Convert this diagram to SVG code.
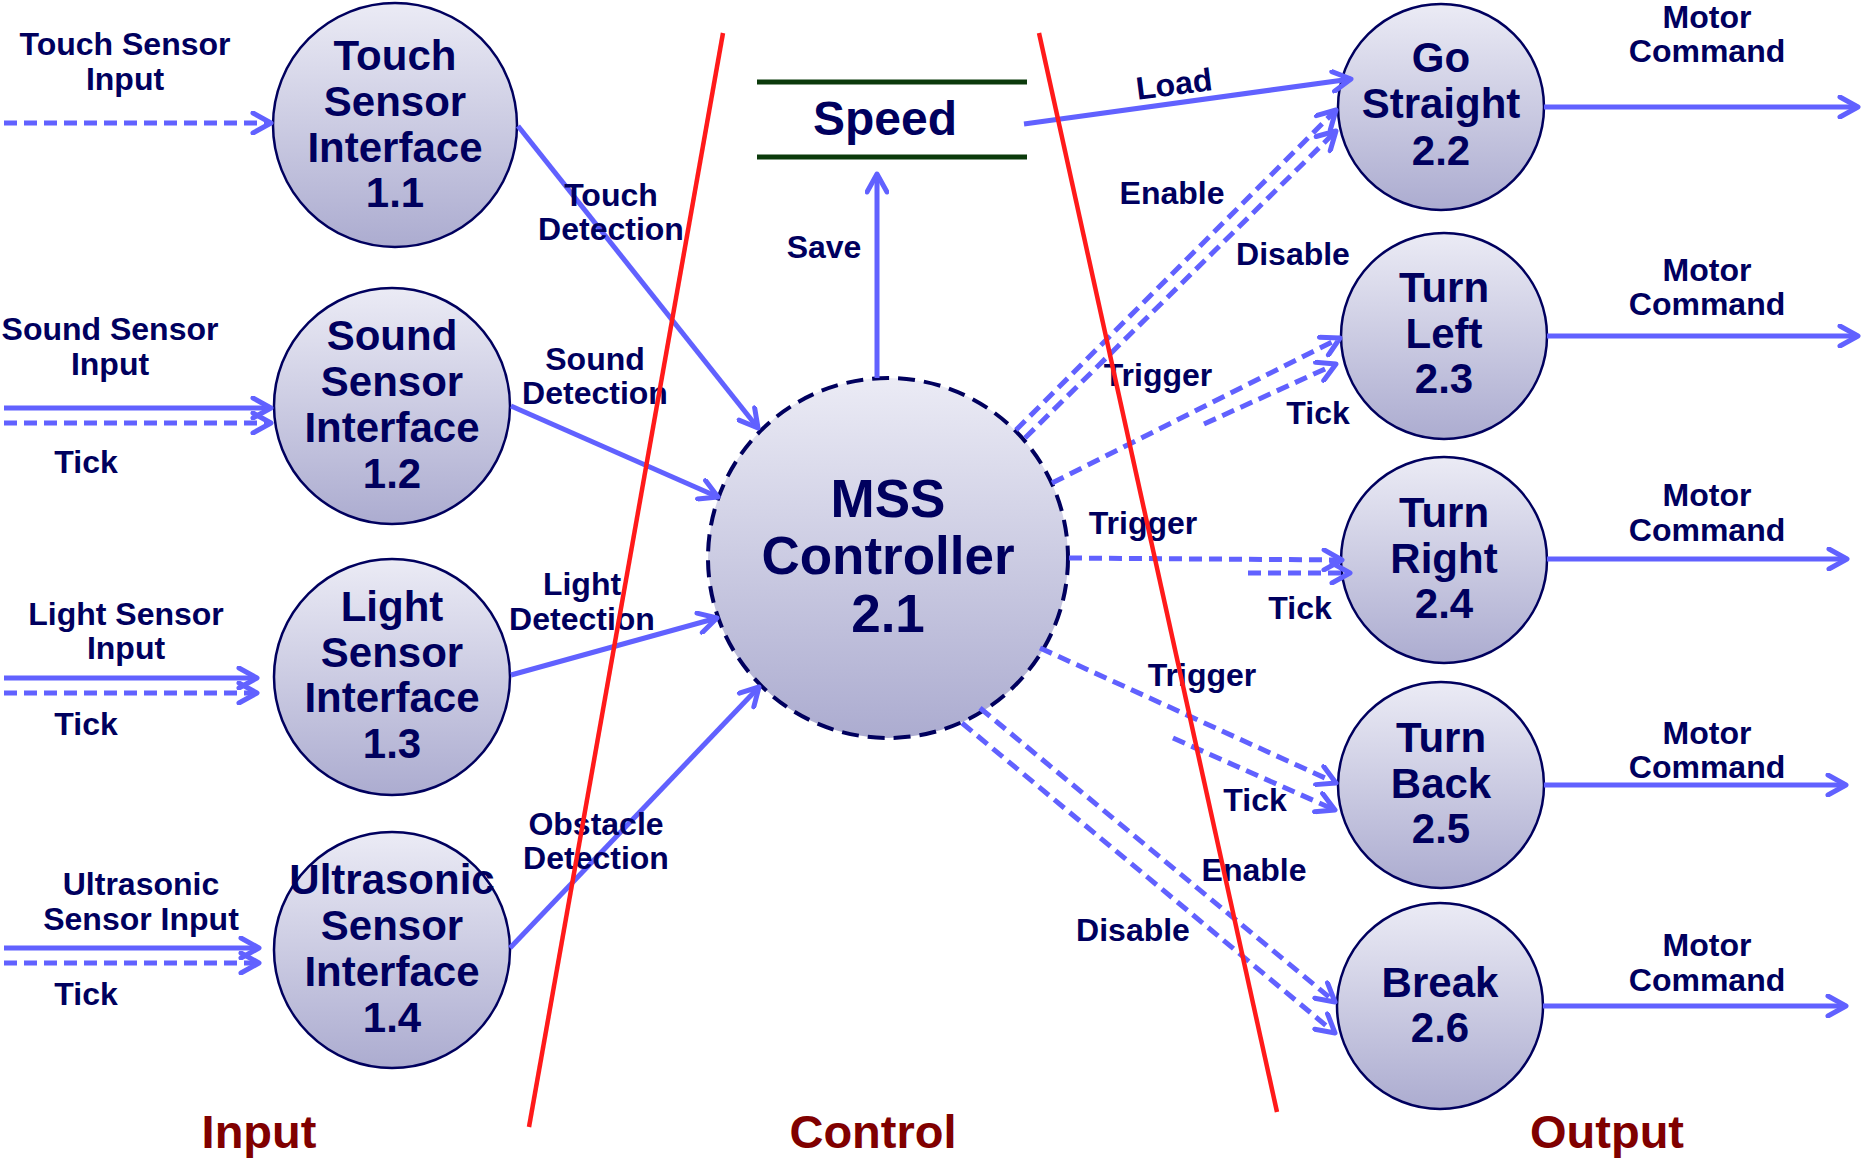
<svg xmlns="http://www.w3.org/2000/svg" width="1862" height="1160" viewBox="0 0 1862 1160">
  <defs>
    <linearGradient id="bubble" x1="0" y1="0" x2="0" y2="1">
      <stop offset="0" stop-color="#ebebf5"/>
      <stop offset="1" stop-color="#acacd0"/>
    </linearGradient>
    <marker id="arr" viewBox="0 0 24 24" refX="21" refY="12" markerWidth="24" markerHeight="24" orient="auto" markerUnits="userSpaceOnUse">
      <path d="M3,2 L21,12 L3,22" fill="none" stroke="#6161ff" stroke-width="5" stroke-linecap="round" stroke-linejoin="round" stroke-dasharray="none"/>
    </marker>
    <style>
      .node circle { fill: url(#bubble); stroke: #00005e; stroke-width: 2.5; }
      .node .ctl { stroke-width: 4; stroke-dasharray: 17 9; }
      .nt { font-family: "Liberation Sans", Arial, sans-serif; font-weight: bold; font-size: 42px; fill: #00005e; text-anchor: middle; }
      .big { font-size: 53px; }
      .lbl { font-family: "Liberation Sans", Arial, sans-serif; font-weight: bold; font-size: 32px; fill: #00005e; text-anchor: middle; }
      .zone { font-family: "Liberation Sans", Arial, sans-serif; font-weight: bold; font-size: 47px; fill: #800000; text-anchor: middle; }
      .flow { fill: none; stroke: #6161ff; stroke-width: 5; marker-end: url(#arr); }
      .dash { stroke-dasharray: 13 7; }
      .store { stroke: #0b3a0b; stroke-width: 5; }
      .bound { stroke: #ff1a1a; stroke-width: 4.5; fill: none; }
    </style>
  </defs>

  <rect width="1862" height="1160" fill="#ffffff"/>

  <!-- process bubbles -->
  <g id="nodes">
    <g id="touch-sensor-interface" class="node">
      <circle cx="395" cy="125" r="122"/>
      <text class="nt" x="395" y="70">Touch</text>
      <text class="nt" x="395" y="116">Sensor</text>
      <text class="nt" x="395" y="162">Interface</text>
      <text class="nt" x="395" y="207">1.1</text>
    </g>
    <g id="sound-sensor-interface" class="node">
      <circle cx="392" cy="406" r="118"/>
      <text class="nt" x="392" y="350">Sound</text>
      <text class="nt" x="392" y="396">Sensor</text>
      <text class="nt" x="392" y="442">Interface</text>
      <text class="nt" x="392" y="488">1.2</text>
    </g>
    <g id="light-sensor-interface" class="node">
      <circle cx="392" cy="677" r="118"/>
      <text class="nt" x="392" y="621">Light</text>
      <text class="nt" x="392" y="667">Sensor</text>
      <text class="nt" x="392" y="712">Interface</text>
      <text class="nt" x="392" y="758">1.3</text>
    </g>
    <g id="ultrasonic-sensor-interface" class="node">
      <circle cx="392" cy="950" r="118"/>
      <text class="nt" x="392" y="894">Ultrasonic</text>
      <text class="nt" x="392" y="940">Sensor</text>
      <text class="nt" x="392" y="986">Interface</text>
      <text class="nt" x="392" y="1032">1.4</text>
    </g>
    <g id="mss-controller" class="node">
      <circle class="ctl" cx="888" cy="558" r="180"/>
      <text class="nt big" x="888" y="517">MSS</text>
      <text class="nt big" x="888" y="574">Controller</text>
      <text class="nt big" x="888" y="632">2.1</text>
    </g>
    <g id="go-straight" class="node">
      <circle cx="1441" cy="107" r="103"/>
      <text class="nt" x="1441" y="72">Go</text>
      <text class="nt" x="1441" y="118">Straight</text>
      <text class="nt" x="1441" y="165">2.2</text>
    </g>
    <g id="turn-left" class="node">
      <circle cx="1444" cy="336" r="103"/>
      <text class="nt" x="1444" y="302">Turn</text>
      <text class="nt" x="1444" y="348">Left</text>
      <text class="nt" x="1444" y="393">2.3</text>
    </g>
    <g id="turn-right" class="node">
      <circle cx="1444" cy="560" r="103"/>
      <text class="nt" x="1444" y="527">Turn</text>
      <text class="nt" x="1444" y="573">Right</text>
      <text class="nt" x="1444" y="618">2.4</text>
    </g>
    <g id="turn-back" class="node">
      <circle cx="1441" cy="785" r="103"/>
      <text class="nt" x="1441" y="752">Turn</text>
      <text class="nt" x="1441" y="798">Back</text>
      <text class="nt" x="1441" y="843">2.5</text>
    </g>
    <g id="break" class="node">
      <circle cx="1440" cy="1006" r="103"/>
      <text class="nt" x="1440" y="997">Break</text>
      <text class="nt" x="1440" y="1042">2.6</text>
    </g>
    <g id="speed-store">
      <line class="store" x1="757" y1="82" x2="1027" y2="82"/>
      <line class="store" x1="757" y1="157" x2="1027" y2="157"/>
      <text class="nt" x="885" y="135" style="font-size:48px">Speed</text>
    </g>
  </g>

  <!-- data and control flows -->
  <g id="connectors">
    <!-- sensor inputs -->
    <path class="flow dash" d="M4,123 L271,123"/>
    <path class="flow" d="M4,408 L271,408"/>
    <path class="flow dash" d="M4,423 L271,423"/>
    <path class="flow" d="M4,678 L257,678"/>
    <path class="flow dash" d="M4,693 L257,693"/>
    <path class="flow" d="M4,948 L259,948"/>
    <path class="flow dash" d="M4,963 L259,963"/>
    <!-- detections into the controller -->
    <path class="flow" d="M518,126 L758,428"/>
    <path class="flow" d="M511,406 L718,497"/>
    <path class="flow" d="M511,675 L717,618"/>
    <path class="flow" d="M510,948 L759,687"/>
    <!-- speed store -->
    <path class="flow" d="M877,378 L877,174"/>
    <path class="flow" d="M1024,124 L1351,79"/>
    <!-- controller to behaviours -->
    <path class="flow dash" d="M1016,430 L1336,110"/>
    <path class="flow dash" d="M1025,438 L1336,131"/>
    <path class="flow dash" d="M1052,483 L1340,338"/>
    <path class="flow dash" d="M1204,424 L1336,364"/>
    <path class="flow dash" d="M1069,558 L1342,560"/>
    <path class="flow dash" d="M1248,573 L1350,573"/>
    <path class="flow dash" d="M1040,648 L1336,783"/>
    <path class="flow dash" d="M1173,738 L1335,810"/>
    <path class="flow dash" d="M980,708 L1335,1002"/>
    <path class="flow dash" d="M962,723 L1335,1033"/>
    <!-- motor commands -->
    <path class="flow" d="M1544,107 L1858,107"/>
    <path class="flow" d="M1547,336 L1858,336"/>
    <path class="flow" d="M1547,559 L1847,559"/>
    <path class="flow" d="M1544,785 L1846,785"/>
    <path class="flow" d="M1543,1006 L1846,1006"/>
  </g>

  <!-- flow labels -->
  <g id="flow-labels">
    <text class="lbl" x="125" y="55">Touch Sensor</text>
    <text class="lbl" x="125" y="90">Input</text>
    <text class="lbl" x="110" y="340">Sound Sensor</text>
    <text class="lbl" x="110" y="375">Input</text>
    <text class="lbl" x="86" y="473">Tick</text>
    <text class="lbl" x="126" y="625">Light Sensor</text>
    <text class="lbl" x="126" y="659">Input</text>
    <text class="lbl" x="86" y="735">Tick</text>
    <text class="lbl" x="141" y="895">Ultrasonic</text>
    <text class="lbl" x="141" y="930">Sensor Input</text>
    <text class="lbl" x="86" y="1005">Tick</text>

    <text class="lbl" x="611" y="206">Touch</text>
    <text class="lbl" x="611" y="240">Detection</text>
    <text class="lbl" x="595" y="370">Sound</text>
    <text class="lbl" x="595" y="404">Detection</text>
    <text class="lbl" x="582" y="595">Light</text>
    <text class="lbl" x="582" y="630">Detection</text>
    <text class="lbl" x="596" y="835">Obstacle</text>
    <text class="lbl" x="596" y="869">Detection</text>

    <text class="lbl" x="824" y="258">Save</text>
    <text class="lbl" x="1174" y="95" transform="rotate(-7.2 1174 84)">Load</text>

    <text class="lbl" x="1172" y="204">Enable</text>
    <text class="lbl" x="1293" y="265">Disable</text>
    <text class="lbl" x="1158" y="386">Trigger</text>
    <text class="lbl" x="1318" y="424">Tick</text>
    <text class="lbl" x="1143" y="534">Trigger</text>
    <text class="lbl" x="1300" y="619">Tick</text>
    <text class="lbl" x="1202" y="686">Trigger</text>
    <text class="lbl" x="1255" y="811">Tick</text>
    <text class="lbl" x="1254" y="881">Enable</text>
    <text class="lbl" x="1133" y="941">Disable</text>

    <text class="lbl" x="1707" y="28">Motor</text>
    <text class="lbl" x="1707" y="62">Command</text>
    <text class="lbl" x="1707" y="281">Motor</text>
    <text class="lbl" x="1707" y="315">Command</text>
    <text class="lbl" x="1707" y="506">Motor</text>
    <text class="lbl" x="1707" y="541">Command</text>
    <text class="lbl" x="1707" y="744">Motor</text>
    <text class="lbl" x="1707" y="778">Command</text>
    <text class="lbl" x="1707" y="956">Motor</text>
    <text class="lbl" x="1707" y="991">Command</text>
  </g>

  <!-- zone boundaries and titles -->
  <g id="zones">
    <line class="bound" x1="723" y1="33" x2="529" y2="1127"/>
    <line class="bound" x1="1039" y1="33" x2="1277" y2="1112"/>
    <text class="zone" x="259" y="1148">Input</text>
    <text class="zone" x="873" y="1148">Control</text>
    <text class="zone" x="1607" y="1148">Output</text>
  </g>
</svg>
